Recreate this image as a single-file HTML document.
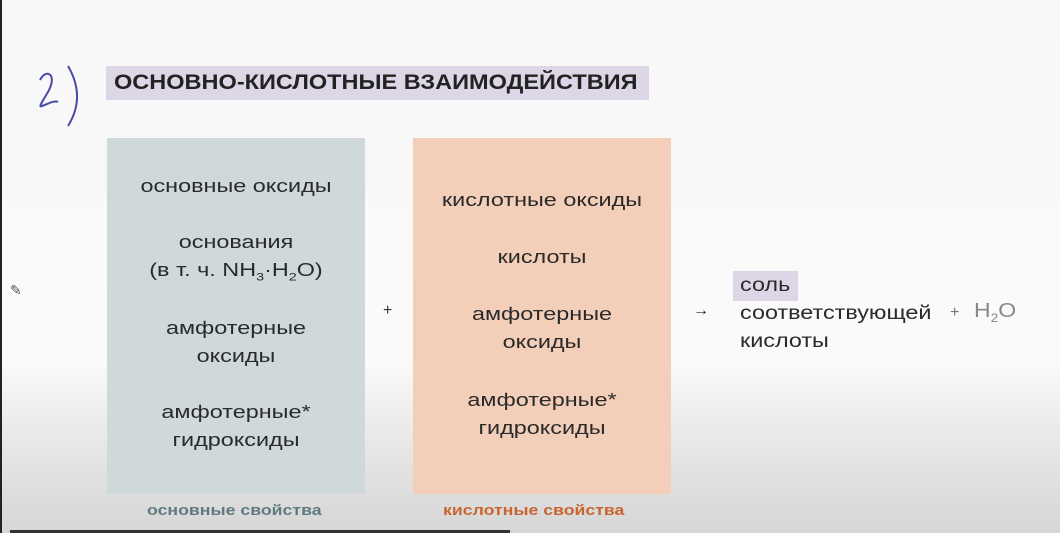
<!DOCTYPE html>
<html><head><meta charset="utf-8"><style>
body{margin:0;width:1060px;height:533px;overflow:hidden;position:relative;font-family:"Liberation Sans","Noto Sans CJK SC",sans-serif;
background:linear-gradient(180deg,#f7f7f7 0px,#fafafa 360px,#e6e6e6 450px,#d6d6d6 533px);}
.a{position:absolute}
.box{position:absolute;top:138px;height:356px;width:258px;text-align:center;color:#2a2a2a;font-size:18px;line-height:28px}
.box div{position:absolute;left:0;right:0;transform:scaleX(1.3)}
.sx{transform-origin:left center}
</style></head><body>
<div class="a" style="left:0;top:0;width:2px;height:533px;background:#222"></div>
<svg class="a" style="left:30px;top:60px" width="50" height="70"><path d="M10 20 C16 8,28 14,18 32 C12 42,8 48,12 46 C18 44,24 40,28 42 M38 6 C52 30,48 50,38 66" fill="none" stroke="#4a4aa8" stroke-width="2"/></svg>
<div class="a" style="left:106px;top:66px;width:543px;height:34px;background:#dcd6e6"></div>
<div class="a sx" style="left:114px;top:66px;line-height:34px;font-size:21px;font-weight:bold;color:#222;transform:scaleX(1.12)">ОСНОВНО-КИСЛОТНЫЕ ВЗАИМОДЕЙСТВИЯ</div>
<div class="box" style="left:107px;background:#cfd9da">
<div style="top:34px">основные оксиды</div>
<div style="top:90px">основания<br>(в т. ч. NH<sub style="font-size:11px">3</sub>·H<sub style="font-size:11px">2</sub>O)</div>
<div style="top:176px">амфотерные<br>оксиды</div>
<div style="top:260px">амфотерные*<br>гидроксиды</div>
</div>
<div class="box" style="left:413px;background:#f3ceb9">
<div style="top:48px">кислотные оксиды</div>
<div style="top:105px">кислоты</div>
<div style="top:162px">амфотерные<br>оксиды</div>
<div style="top:248px">амфотерные*<br>гидроксиды</div>
</div>
<div class="a sx" style="left:147px;top:502px;font-size:15px;font-weight:bold;color:#5f7a7e;transform:scaleX(1.18)">основные свойства</div>
<div class="a sx" style="left:443px;top:502px;font-size:15px;font-weight:bold;color:#c8652f;transform:scaleX(1.18)">кислотные свойства</div>
<div class="a" style="left:383px;top:302px;font-size:16px;color:#333">+</div>
<div class="a" style="left:693px;top:302px;font-size:16px;color:#222">→</div>
<div class="a" style="left:733px;top:271px;width:65px;height:30px;background:#dcd6e6"></div>
<div class="a sx" style="left:740px;top:272px;font-size:19px;line-height:28px;color:#2a2a2a;transform:scaleX(1.23)">соль<br>соответствующей<br>кислоты</div>
<div class="a" style="left:950px;top:304px;font-size:16px;color:#777">+</div>
<div class="a sx" style="left:974px;top:300px;font-size:20px;color:#888;transform:scaleX(1.15)">H<sub style="font-size:12px">2</sub>O</div>
<div class="a" style="left:10px;top:282px;font-size:14px;color:#555">✎</div>
<div class="a" style="left:10px;top:530px;width:500px;height:3px;background:#333"></div>
</body></html>
